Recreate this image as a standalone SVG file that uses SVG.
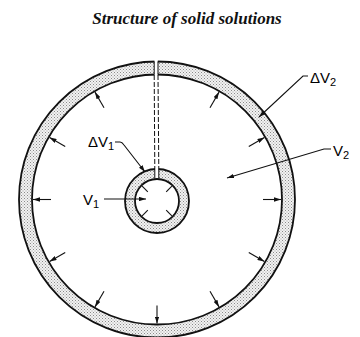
<svg xmlns="http://www.w3.org/2000/svg" width="360" height="337" viewBox="0 0 360 337">
<style>
.title{font-family:"Liberation Serif","Times New Roman",serif;font-style:italic;font-weight:bold;font-size:17px;fill:#111}
.lbl{font-family:"Liberation Sans",Arial,sans-serif;font-size:15px;fill:#000}
.edge{fill:none;stroke:#111;stroke-width:1.8}
.lead{fill:none;stroke:#111;stroke-width:1.1}
.dash{fill:none;stroke:#111;stroke-width:1;stroke-dasharray:5 2}
</style>
<defs>
<pattern id="stip" width="3" height="3" patternUnits="userSpaceOnUse">
<rect width="3" height="3" fill="#f2f2f2"/>
<rect x="0" y="0" width="1" height="1" fill="#8a8a8a"/>
<rect x="1.5" y="1.5" width="1" height="1" fill="#a0a0a0"/>
</pattern>
<marker id="ah" markerUnits="userSpaceOnUse" markerWidth="7" markerHeight="4.4" refX="7" refY="2.2" orient="auto">
<path d="M0,0 L7,2.2 L0,4.4 z" fill="#111"/>
</marker>
</defs>
<rect width="360" height="337" fill="#fff"/>
<g id="title"><text class="title" x="187" y="24" text-anchor="middle">Structure of solid solutions</text></g>
<g id="outer-ring">
<path d="M157,61.5 a138,138 0 1,0 0.001,0 z M157,74.5 a125,125 0 1,1 -0.001,0 z" fill="url(#stip)" fill-rule="evenodd"/>
<circle class="edge" cx="157" cy="199.5" r="138"/>
<circle class="edge" cx="157" cy="199.5" r="125"/>
<rect x="154.4" y="59" width="3.4" height="17" fill="#fff"/>
<line x1="154.2" y1="61.5" x2="154.2" y2="74.5" stroke="#111" stroke-width="1"/>
<line x1="158" y1="61.5" x2="158" y2="74.5" stroke="#111" stroke-width="1"/>
</g>
<g id="inner-ring">
<path d="M157,169 a32,32 0 1,0 0.001,0 z M157,179 a22,22 0 1,1 -0.001,0 z" fill="url(#stip)" fill-rule="evenodd"/>
<circle class="edge" cx="157" cy="201" r="32"/>
<rect x="155" y="167" width="3.6" height="11.5" fill="#fff"/>
<circle class="edge" cx="157" cy="201" r="22"/>
<line x1="154.8" y1="169" x2="154.8" y2="178.5" stroke="#111" stroke-width="1"/>
<line x1="158.8" y1="169" x2="158.8" y2="178.5" stroke="#111" stroke-width="1"/>
<g transform="translate(157,201)" stroke="#111" stroke-width="1.1">
<line x1="13" y1="0" x2="21" y2="0" transform="rotate(45)"/>
<line x1="13" y1="0" x2="21" y2="0" transform="rotate(135)"/>
<line x1="13" y1="0" x2="21" y2="0" transform="rotate(225)"/>
<line x1="13" y1="0" x2="21" y2="0" transform="rotate(315)"/>
</g>
</g>
<g id="channel">
<line class="dash" x1="154.2" y1="75" x2="154.8" y2="169"/>
<line class="dash" x1="158" y1="75" x2="158.8" y2="169"/>
</g>
<g id="expansion-arrows" transform="translate(157,199.5)" stroke="#111" stroke-width="1.1">
<line x1="106" y1="0" x2="124" y2="0" marker-end="url(#ah)" transform="rotate(0)"/>
<line x1="106" y1="0" x2="124" y2="0" marker-end="url(#ah)" transform="rotate(30)"/>
<line x1="106" y1="0" x2="124" y2="0" marker-end="url(#ah)" transform="rotate(60)"/>
<line x1="106" y1="0" x2="124" y2="0" marker-end="url(#ah)" transform="rotate(90)"/>
<line x1="106" y1="0" x2="124" y2="0" marker-end="url(#ah)" transform="rotate(120)"/>
<line x1="106" y1="0" x2="124" y2="0" marker-end="url(#ah)" transform="rotate(150)"/>
<line x1="106" y1="0" x2="124" y2="0" marker-end="url(#ah)" transform="rotate(180)"/>
<line x1="106" y1="0" x2="124" y2="0" marker-end="url(#ah)" transform="rotate(210)"/>
<line x1="106" y1="0" x2="124" y2="0" marker-end="url(#ah)" transform="rotate(240)"/>
<line x1="106" y1="0" x2="124" y2="0" marker-end="url(#ah)" transform="rotate(300)"/>
<line x1="106" y1="0" x2="124" y2="0" marker-end="url(#ah)" transform="rotate(330)"/>
</g>
<g id="connectors">
<path class="lead" d="M115,142 L120,142 Q122,142 124,145 L145,172" marker-end="url(#ah)"/>
<line class="lead" x1="104" y1="199" x2="146" y2="199" marker-end="url(#ah)"/>
<path class="lead" d="M308,76 L303,76 L259,117" marker-end="url(#ah)"/>
<path class="lead" d="M331,149 L324,149 L227,178" marker-end="url(#ah)"/>
</g>
<g id="labels">
<text class="lbl" x="88" y="147">ΔV<tspan font-size="11" dy="3">1</tspan></text>
<text class="lbl" x="83" y="205">V<tspan font-size="11" dy="3">1</tspan></text>
<text class="lbl" x="310" y="83">ΔV<tspan font-size="11" dy="3">2</tspan></text>
<text class="lbl" x="333" y="156">V<tspan font-size="11" dy="3">2</tspan></text>
</g>
</svg>
